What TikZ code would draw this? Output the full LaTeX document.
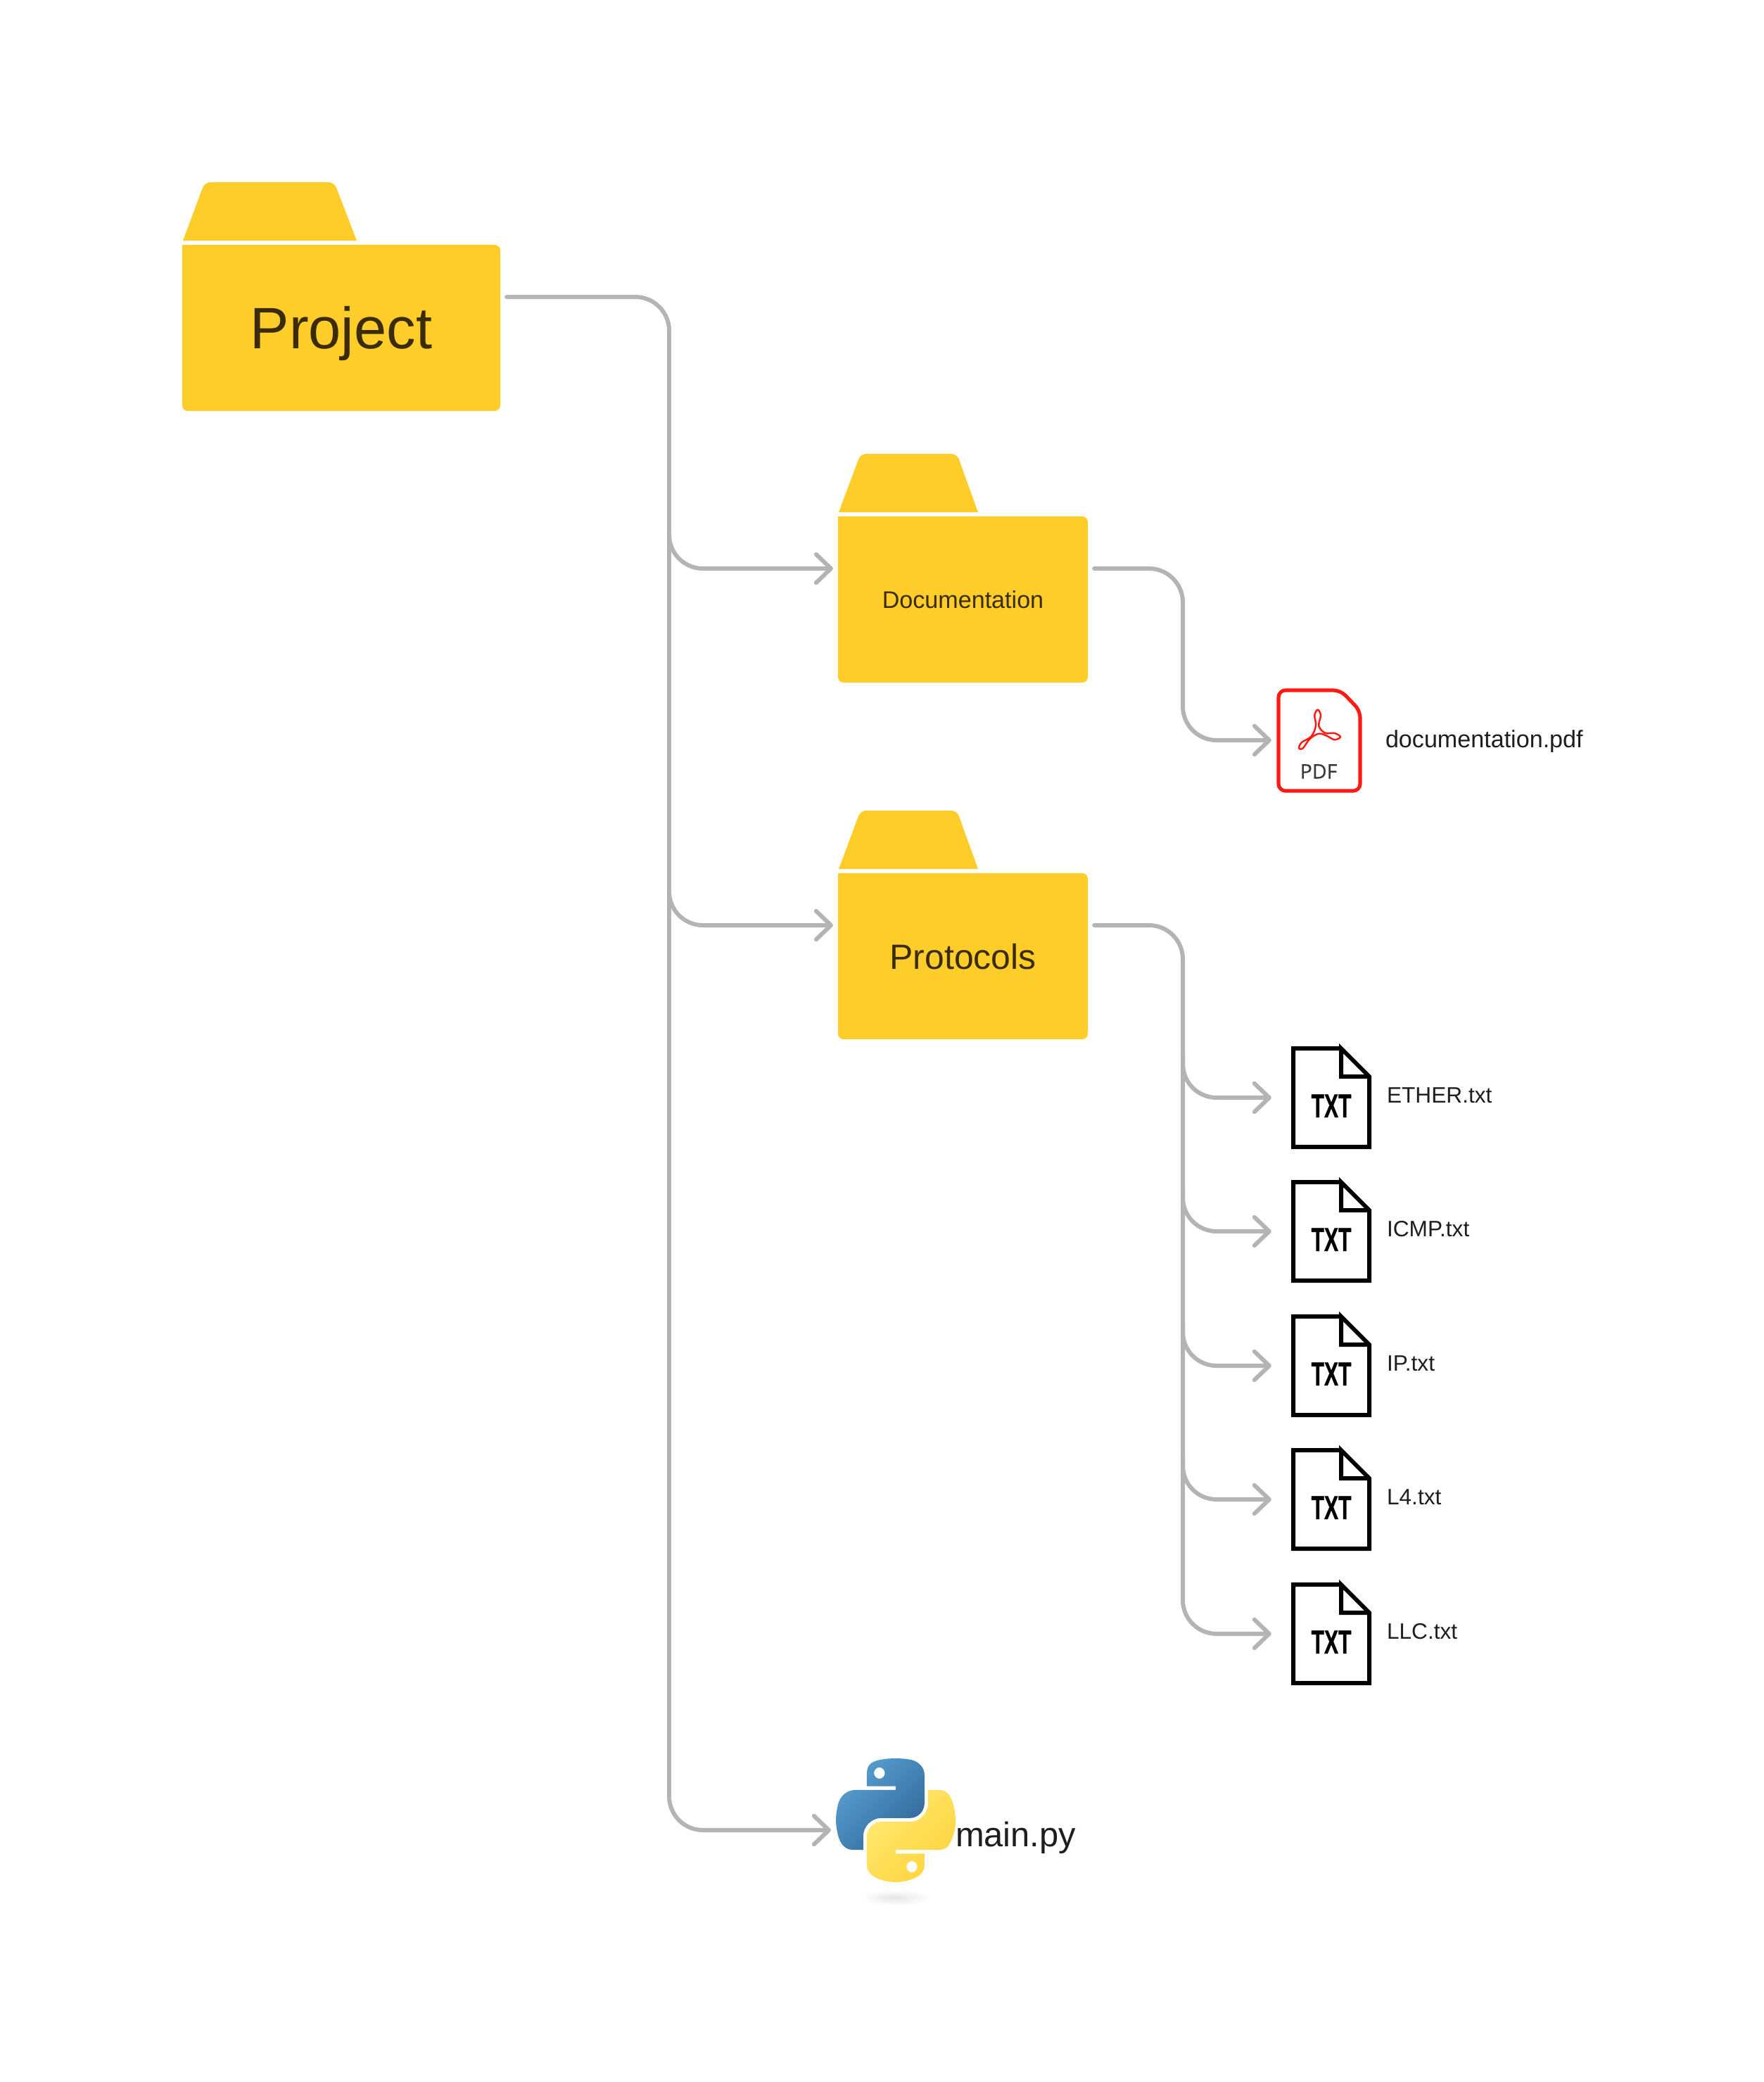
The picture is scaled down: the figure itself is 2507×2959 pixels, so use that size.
\documentclass[tikz,border=0pt]{standalone}
\usepackage{fontspec}
\setmainfont{Liberation Sans}
\newfontfamily\pdffont[FakeBold=0.4]{Open Sans}
\newfontfamily\txtfont[BoldFeatures={FakeBold=0.8}]{Liberation Sans}
\usetikzlibrary{arrows.meta,svg.path}
\definecolor{foldery}{HTML}{FFCD29}
\definecolor{foldertxt}{HTML}{3A2C0A}
\definecolor{linkgr}{HTML}{B4B4B4}
\definecolor{pdfred}{HTML}{FF1A14}
\definecolor{labink}{HTML}{1E1E1E}
\definecolor{py1}{HTML}{5A9FD4}
\definecolor{py2}{HTML}{306998}
\definecolor{py3}{HTML}{FFE873}
\definecolor{py4}{HTML}{FFD43B}
\tikzset{
  spot/.style={inner sep=0pt,outer sep=0pt},
  link/.style={draw=linkgr,line width=1.7pt,line cap=round,rounded corners=0.48cm},
  tip/.style={-{Straight Barb[length=6pt,width=11.5pt,round]}},
  folderbody/.style={spot,fill=foldery,rounded corners=0.08cm,text=foldertxt,text depth=0pt,minimum height=2.36cm},
  bigfont/.style={text height=0.59cm,font=\fontsize{23.6}{26}\selectfont},
  midfont/.style={text height=0.36cm,font=\fontsize{14.2}{17}\selectfont},
  smallfont/.style={text height=0.245cm,font=\fontsize{9.7}{12}\selectfont},
  filelab/.style={spot,anchor=base west,text=labink,font=\fontsize{9}{11}\selectfont},
  fileline/.style={draw=black,line width=1.7pt,line join=miter},
  txtmark/.style={spot,text height=0.32cm,text depth=0pt,font=\txtfont\fontsize{13.4}{15}\selectfont\bfseries},
}
\begin{document}
\begin{tikzpicture}[x=0.01cm,y=-0.01cm]
  \useasboundingbox (0,0) rectangle (2507,2959);
  % folders
  \foreach \n/\a/\b/\c/\d/\y/\l/\f in {project/259/711/475/507/422/Project/bigfont, doc/1191/1546/1360/1390/808/Documentation/smallfont, proto/1191/1546/1360/1390/1315/Protocols/midfont} {
    \node[spot,minimum width={(\b-\a)*0.01cm},minimum height=3.24cm] (\n) at ({(\a+\b)/2},\y) {};
    \fill[foldery] (\a+1,\y-80) [rounded corners=0.08cm] -- (\a+32,\y-163) -- (\c,\y-163) [sharp corners] -- (\d,\y-80) -- cycle;
    \node[folderbody,\f,minimum width={(\b-\a)*0.01cm}] (\n body) at ({(\a+\b)/2},\y+44) {\l};
    \fill[foldery] (\a,\y-74) rectangle (\a+20,\y-54);
  }
  % pdf file
  \node[spot,minimum width=1.22cm,minimum height=1.49cm] (pdf) at (1875,1052) {};
  \draw[pdfred,line width=1.45pt,rounded corners=0.1cm] (1905,981) -- (1933,1010) -- (1933,1124) -- (1817,1124) -- (1817,981) -- cycle;
  \draw[pdfred,line width=0.7pt] plot[smooth cycle,tension=0.6] coordinates {(1872.7,1008.7) (1877,1016.7) (1874.3,1031.7) (1883.3,1041.7) (1896.7,1042) (1905,1047.3) (1896.7,1051.3) (1886,1046) (1874.3,1042.7) (1861.7,1050) (1851.7,1063.3) (1846,1063.3) (1850,1055) (1863.3,1046.7) (1870,1031.7) (1868.3,1016.7)};
  \node[spot,text=black!78,text height=0.21cm,text depth=0pt,font=\pdffont\fontsize{8.1}{10}\selectfont] (pdfmark) at (1874,1096) {PDF};
  \node[spot,anchor=base west,text=labink,font=\fontsize{9.7}{12}\selectfont] (pdflab) at (1969,1062) {documentation.pdf};
  % txt files
  \foreach \n/\y/\l in {ether/1560/ETHER.txt, icmp/1750/ICMP.txt, ip/1941/IP.txt, lfour/2131/L4.txt, llc/2322/LLC.txt} {
    \node[spot,minimum width=1.14cm,minimum height=1.46cm] (\n) at (1892,\y) {};
    \draw[fileline] (1906,\y-70) -- (1838,\y-70) -- (1838,\y+70) -- (1946,\y+70) -- (1946,\y-30) -- (1906,\y-70) -- (1906,\y-30) -- (1946,\y-30);
    \node[txtmark] (\n mark) at (1892,\y+12) {\scalebox{0.64}[1]{TXT}};
    \node[filelab] (\n lab) at (1971,\y+7) {\l};
    \coordinate (\n fork) at (1681,\y-60);
  }
  % python file
  \node[spot,minimum width=1.7cm,minimum height=2.09cm] (main) at (1273,2601) {};
  \shade[inner color=black!10,outer color=white] (1273,2697) ellipse (0.5cm and 0.11cm);
  \begin{scope}[shift={(1188,2499)},xscale=0.435,yscale=-0.445]
    \shade[even odd rule,left color=py1,right color=py2,shading angle=45] svg {M 54.918785,0.001 C 50.335132,0.02221727 45.957846,0.41313697 42.106285,1.0946693 30.760069,3.0991731 28.700036,7.2947714 28.700035,15.032169 v 10.21875 h 26.8125 v 3.40625 h -36.875 c -7.792459,0 -14.6157588,4.683717 -16.7499998,13.59375 -2.46181998,10.212966 -2.57101508,16.586023 0,27.25 1.9059283,7.937852 6.4575432,13.593748 14.2499998,13.59375 h 9.21875 v -12.25 c 0,-8.849902 7.657144,-16.656248 16.75,-16.65625 h 26.78125 c 7.454951,0 13.406253,-6.138164 13.40625,-13.625 v -25.53125 c 0,-7.2663386 -6.12998,-12.7247771 -13.40625,-13.9374997 C 64.281548,0.32794397 59.502438,-0.02037903 54.918785,0.001 Z M 40.418785,8.219750 c 2.769547,0 5.03125,2.2986456 5.03125,5.1249996 0,2.816336 -2.261703,5.09375 -5.03125,5.09375 -2.779476,0 -5.03125,-2.277415 -5.03125,-5.09375 0,-2.826353 2.251774,-5.1249996 5.03125,-5.1249996 z};
    \shade[even odd rule,left color=py3,right color=py4,shading angle=45] svg {M 85.637535,28.657169 v 11.90625 c 0,9.230755 -7.825895,16.999999 -16.75,17 h -26.78125 c -7.335833,0 -13.406249,6.278483 -13.40625,13.625 v 25.531247 c 0,7.266344 6.318588,11.540324 13.40625,13.625004 8.487331,2.49561 16.626237,2.94663 26.78125,0 6.750155,-1.95439 13.406253,-5.88761 13.40625,-13.625004 V 86.500919 h -26.78125 v -3.40625 h 40.187504 c 7.792461,0 10.696251,-5.435408 13.406241,-13.59375 2.79933,-8.398886 2.74898,-16.475776 0,-27.25 -1.92578,-7.757441 -5.60387,-13.59375 -13.406241,-13.59375 z M 70.575035,93.313419 c 2.779478,0 5.03125,2.277417 5.03125,5.093747 0,2.826354 -2.251775,5.125004 -5.03125,5.125004 -2.76955,0 -5.03125,-2.29865 -5.03125,-5.125004 0,-2.81633 2.261697,-5.093747 5.03125,-5.093747 z};
  \end{scope}
  \node[spot,anchor=base west,text=labink,font=\fontsize{13.9}{16}\selectfont] (mainlab) at (1358,2624) {main.py};
  % connectors
  \coordinate (docfork) at (951,700);
  \coordinate (protofork) at (951,1210);
  \coordinate (mainfork) at (951,2500);
  \coordinate (pdffork) at (1681,930);
  \draw[link,shorten <=2.6pt] (project.east) -| (mainfork);
  \foreach \n in {doc,proto,main} {\draw[link,tip,shorten >=2pt] (\n fork) |- (\n.west);}
  \draw[link,tip,shorten <=2.6pt,shorten >=2pt] (doc.east) -| (pdffork) |- (pdf.west);
  \draw[link,shorten <=2.6pt] (proto.east) -| (llcfork);
  \foreach \n in {ether,icmp,ip,lfour,llc} {\draw[link,tip,shorten >=8pt] (\n fork) |- (\n.west);}
\end{tikzpicture}
\end{document}
